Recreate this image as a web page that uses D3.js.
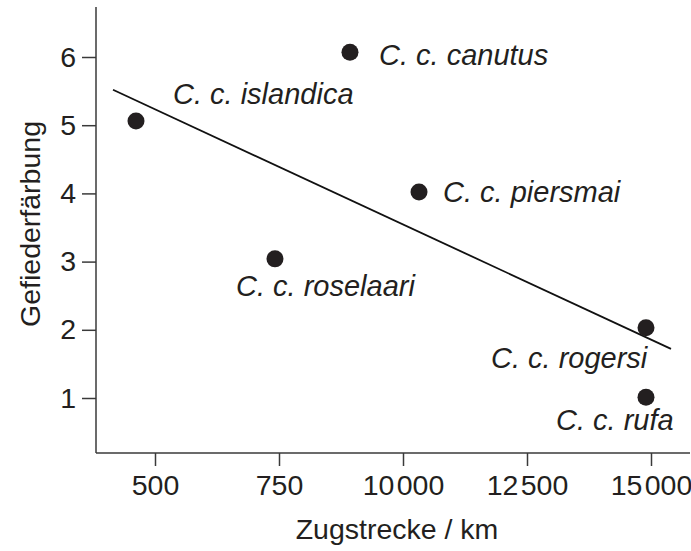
<!DOCTYPE html>
<html><head><meta charset="utf-8">
<script src="https://cdn.jsdelivr.net/npm/d3@7"></script>
<style>body{margin:0;background:#fff}svg{display:block}</style>
</head><body>
<script>
const subspecies = ["C. c. islandica","C. c. canutus","C. c. piersmai","C. c. roselaari","C. c. rogersi","C. c. rufa"];
const distance = [4617, 8931, 10323, 7419, 14899, 14899];
const plumage = [5.06, 6.07, 4.02, 3.04, 2.03, 1.01];
const xTickValues = [5000, 7500, 10000, 12500, 15000];
const xTickLabels = ["500", "750", "10\u200A000", "12\u200A500", "15\u200A000"];
const yTickValues = [1, 2, 3, 4, 5, 6];
const trendX = [4153, 15403];
const trendY = [5.52, 1.72];
// label offsets relative to point (dx, dy) in px
const labelOffsets = [[37,-17],[29,13],[24,10],[-39,37],[-155,40],[-90,33]];

const W = 691, H = 551;
const font = "Arial, 'Liberation Sans', sans-serif";
const ink = "#231f20";
const fs = 28.5;
const svg = d3.select("body").append("svg").attr("width", W).attr("height", H);

const x = d3.scaleLinear().domain([5000, 15000]).range([155, 651]);
const y = d3.scaleLinear().domain([1, 6]).range([398, 57]);
const x0 = 96, yBase = 453;

// axes
const xAxis = svg.append("g").attr("transform", `translate(0,${yBase})`)
  .call(d3.axisBottom(x).tickValues(xTickValues).tickFormat((d,i)=>xTickLabels[i]).tickSize(13).tickPadding(9).tickSizeOuter(0));
xAxis.select(".domain").attr("d", `M${x0},0H690`);
const yAxis = svg.append("g").attr("transform", `translate(${x0},0)`)
  .call(d3.axisLeft(y).tickValues(yTickValues).tickFormat(d3.format("d")).tickSize(14).tickPadding(6).tickSizeOuter(0));
yAxis.select(".domain").attr("d", `M0,7V${yBase}`);
svg.selectAll(".domain, .tick line").attr("stroke", "#3a3a3a").attr("stroke-width", 1.5);
svg.selectAll(".tick text").attr("font-family", font).attr("font-size", fs).attr("fill", ink);

// trend line
svg.append("line")
  .attr("x1", x(trendX[0])).attr("y1", y(trendY[0]))
  .attr("x2", x(trendX[1])).attr("y2", y(trendY[1]))
  .attr("stroke", "#111").attr("stroke-width", 1.8);

// points
svg.selectAll("circle.pt").data(subspecies).enter().append("circle")
  .attr("class","pt")
  .attr("cx", (d,i)=>x(distance[i])).attr("cy", (d,i)=>y(plumage[i]))
  .attr("r", 8.5).attr("fill", ink);

// labels
svg.selectAll("text.lbl").data(subspecies).enter().append("text")
  .attr("class","lbl")
  .attr("x", (d,i)=>x(distance[i]) + labelOffsets[i][0])
  .attr("y", (d,i)=>y(plumage[i]) + labelOffsets[i][1])
  .attr("font-family", font).attr("font-style","italic").attr("font-size", 29).attr("fill", ink)
  .text(d=>d);

// axis titles
svg.append("text").attr("x", 397).attr("y", 539).attr("text-anchor","middle")
  .attr("font-family", font).attr("font-size", fs).attr("fill", ink).text("Zugstrecke / km");
svg.append("text").attr("transform", "translate(40,224) rotate(-90)").attr("text-anchor","middle")
  .attr("font-family", font).attr("font-size", fs).attr("fill", ink).text("Gefiederfärbung");
</script>
</body></html>
